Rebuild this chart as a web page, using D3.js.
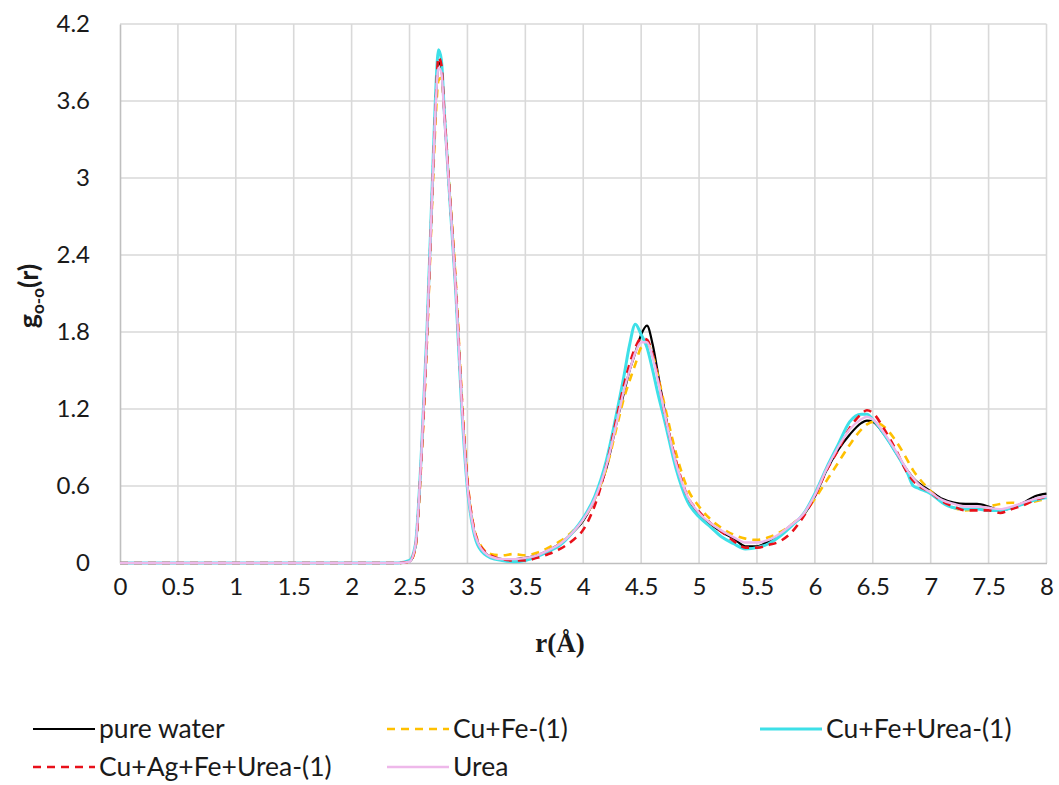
<!DOCTYPE html>
<html>
<head>
<meta charset="utf-8">
<script src="https://cdn.jsdelivr.net/npm/d3@7/dist/d3.min.js"></script>
<style>
  html, body { margin: 0; padding: 0; background: #ffffff; }
  svg { display: block; }
  .tick-label { font-family: Lato, "Open Sans", sans-serif; font-size: 24px; fill: #1a1a1a; }
  .legend-label { font-family: Lato, "Open Sans", sans-serif; font-size: 26.5px; fill: #1a1a1a; }
</style>
</head>
<body>
<svg id="chart" width="1059" height="785"></svg>
<script>
// Radial distance grid (Å), shared by every series
const rValues = [0, 0.5, 1, 1.5, 2, 2.4, 2.5, 2.55, 2.6, 2.65, 2.7, 2.725, 2.75, 2.775, 2.8,
  2.85, 2.9, 2.95, 3.0, 3.05, 3.1, 3.2, 3.3, 3.4, 3.5, 3.6, 3.7, 3.8, 3.9, 4.0, 4.1, 4.2, 4.3,
  4.35, 4.4, 4.45, 4.5, 4.55, 4.6, 4.65, 4.7, 4.8, 4.9, 5.0, 5.1, 5.2, 5.3, 5.4, 5.5, 5.6, 5.7,
  5.8, 5.9, 6.0, 6.1, 6.2, 6.3, 6.4, 6.45, 6.5, 6.6, 6.7, 6.8, 6.85, 6.9, 7.0, 7.1, 7.2, 7.3,
  7.4, 7.5, 7.6, 7.7, 7.8, 7.9, 8.0];

// g_O-O(r) for each system
const pureWater = [0, 0, 0, 0, 0, 0, 0.01, 0.12, 0.8, 1.76, 3.0, 3.55, 3.9, 3.86, 3.5,
  2.82, 2.12, 1.26, 0.6, 0.28, 0.14, 0.05, 0.03, 0.03, 0.04, 0.06, 0.1, 0.15, 0.23, 0.33, 0.5, 0.74, 1.14,
  1.32, 1.5, 1.64, 1.78, 1.85, 1.7, 1.45, 1.2, 0.78, 0.5, 0.38, 0.3, 0.24, 0.19, 0.13, 0.13, 0.17, 0.22,
  0.3, 0.37, 0.52, 0.72, 0.88, 1.0, 1.09, 1.11, 1.1, 1.0, 0.86, 0.72, 0.66, 0.62, 0.56, 0.5, 0.47, 0.46,
  0.46, 0.44, 0.41, 0.43, 0.47, 0.52, 0.54];

const cuFe = [0, 0, 0, 0, 0, 0, 0.01, 0.11, 0.76, 1.72, 2.92, 3.45, 3.76, 3.78, 3.5,
  2.86, 2.18, 1.32, 0.65, 0.3, 0.16, 0.07, 0.06, 0.07, 0.06, 0.08, 0.12, 0.17, 0.24, 0.34, 0.5, 0.74, 1.1,
  1.28, 1.42, 1.55, 1.68, 1.71, 1.62, 1.44, 1.24, 0.86, 0.58, 0.44, 0.34, 0.27, 0.22, 0.19, 0.18, 0.2, 0.24,
  0.3, 0.38, 0.5, 0.64, 0.78, 0.92, 1.04, 1.08, 1.1, 1.06, 0.95, 0.8, 0.72, 0.66, 0.56, 0.48, 0.43, 0.41,
  0.42, 0.44, 0.46, 0.47, 0.46, 0.48, 0.5];

const cuFeUrea = [0, 0, 0, 0, 0, 0, 0.02, 0.14, 0.82, 1.8, 3.05, 3.65, 4.0, 3.92, 3.52,
  2.8, 2.1, 1.22, 0.58, 0.26, 0.12, 0.04, 0.02, 0.01, 0.02, 0.05, 0.09, 0.14, 0.23, 0.35, 0.52, 0.8, 1.22,
  1.45, 1.7, 1.86, 1.78, 1.68, 1.5, 1.3, 1.12, 0.74, 0.48, 0.36, 0.28, 0.2, 0.15, 0.11, 0.12, 0.15, 0.21,
  0.29, 0.38, 0.54, 0.74, 0.92, 1.1, 1.16, 1.16, 1.12, 1.0, 0.86, 0.7, 0.6, 0.58, 0.54, 0.47, 0.43, 0.42,
  0.42, 0.41, 0.41, 0.43, 0.46, 0.49, 0.51];

const cuAgFeUrea = [0, 0, 0, 0, 0, 0, 0.01, 0.12, 0.78, 1.74, 2.98, 3.55, 3.94, 3.88, 3.52,
  2.84, 2.15, 1.3, 0.64, 0.3, 0.15, 0.06, 0.03, 0.02, 0.02, 0.04, 0.07, 0.11, 0.17, 0.26, 0.45, 0.76, 1.18,
  1.38, 1.55, 1.68, 1.75, 1.74, 1.62, 1.42, 1.18, 0.8, 0.52, 0.4, 0.31, 0.24, 0.17, 0.12, 0.12, 0.14, 0.17,
  0.24, 0.36, 0.52, 0.72, 0.88, 1.05, 1.16, 1.19, 1.17, 1.04, 0.88, 0.7, 0.64, 0.6, 0.55, 0.48, 0.44, 0.41,
  0.41, 0.41, 0.39, 0.42, 0.45, 0.49, 0.52];

const urea = [0, 0, 0, 0, 0, 0, 0.01, 0.13, 0.8, 1.76, 3.0, 3.55, 3.86, 3.82, 3.48,
  2.82, 2.12, 1.26, 0.6, 0.28, 0.14, 0.05, 0.03, 0.03, 0.04, 0.06, 0.1, 0.15, 0.23, 0.34, 0.5, 0.76, 1.14,
  1.34, 1.5, 1.64, 1.72, 1.72, 1.6, 1.4, 1.18, 0.78, 0.52, 0.39, 0.31, 0.25, 0.2, 0.16, 0.16, 0.18, 0.23,
  0.3, 0.38, 0.53, 0.73, 0.9, 1.04, 1.12, 1.14, 1.12, 1.01, 0.87, 0.72, 0.66, 0.61, 0.55, 0.49, 0.46, 0.44,
  0.44, 0.43, 0.42, 0.44, 0.47, 0.5, 0.52];

const seriesNames = ["pure water", "Cu+Fe-(1)", "Cu+Fe+Urea-(1)", "Cu+Ag+Fe+Urea-(1)", "Urea"];
const seriesValues = [pureWater, cuFe, cuFeUrea, cuAgFeUrea, urea];

const xTicks = [0, 0.5, 1, 1.5, 2, 2.5, 3, 3.5, 4, 4.5, 5, 5.5, 6, 6.5, 7, 7.5, 8];
const yTicks = [0, 0.6, 1.2, 1.8, 2.4, 3, 3.6, 4.2];

// Line styling per series
const styles = [
  { color: "#000000", width: 2.2, dash: null },
  { color: "#FFC000", width: 2.6, dash: "8,6" },
  { color: "#3EE0E8", width: 3, dash: null },
  { color: "#E8101A", width: 2.6, dash: "8,6" },
  { color: "#EEB8EA", width: 2.4, dash: null }
];

const svg = d3.select("#chart");
const plot = { left: 120, right: 1046.5, top: 24, bottom: 563 };

const x = d3.scaleLinear().domain([0, 8]).range([plot.left, plot.right]);
const y = d3.scaleLinear().domain([0, 4.2]).range([plot.bottom, plot.top]);

// Gridlines
const grid = svg.append("g");
grid.selectAll("line.v").data(xTicks.filter(t => t > 0)).join("line")
  .attr("x1", d => x(d)).attr("x2", d => x(d))
  .attr("y1", plot.top).attr("y2", plot.bottom)
  .attr("stroke", "#d9d9d9").attr("stroke-width", 1.6);
grid.selectAll("line.h").data(yTicks.filter(t => t > 0)).join("line")
  .attr("x1", plot.left).attr("x2", plot.right)
  .attr("y1", d => y(d)).attr("y2", d => y(d))
  .attr("stroke", "#d9d9d9").attr("stroke-width", 1.6);

// Axes
const xAxis = svg.append("g")
  .attr("transform", `translate(0,${plot.bottom})`)
  .call(d3.axisBottom(x).tickValues(xTicks).tickSize(0).tickPadding(15).tickFormat(d3.format("")));
const yAxis = svg.append("g")
  .attr("transform", `translate(${plot.left},0)`)
  .call(d3.axisLeft(y).tickValues(yTicks).tickSize(0).tickPadding(30).tickFormat(d3.format("")));
[xAxis, yAxis].forEach(a => {
  a.select(".domain").attr("stroke", "#bfbfbf").attr("stroke-width", 1.6);
  a.selectAll("text").attr("class", "tick-label").attr("fill", "#1a1a1a");
});

// Curves
const line = d3.line()
  .x((d, i) => x(rValues[i]))
  .y(d => y(d))
  .curve(d3.curveMonotoneX);

svg.append("g").selectAll("path").data(seriesValues).join("path")
  .attr("d", d => line(d))
  .attr("fill", "none")
  .attr("stroke", (d, i) => styles[i].color)
  .attr("stroke-width", (d, i) => styles[i].width)
  .attr("stroke-dasharray", (d, i) => styles[i].dash)
  .attr("stroke-linejoin", "round");

// Axis titles
svg.append("text")
  .attr("x", 560).attr("y", 652)
  .attr("text-anchor", "middle")
  .style("font-family", "'Liberation Serif', 'DejaVu Serif', serif")
  .style("font-weight", "bold").style("font-size", "27px")
  .attr("fill", "#1a1a1a")
  .text("r(Å)");

const yTitle = svg.append("text")
  .attr("transform", "translate(38,296) rotate(-90)")
  .attr("text-anchor", "middle")
  .style("font-family", "Lato, 'Open Sans', sans-serif")
  .style("font-weight", "bold").style("font-size", "27px")
  .attr("fill", "#1a1a1a");
yTitle.append("tspan").text("g");
yTitle.append("tspan").attr("dy", 6).style("font-size", "17px").text("o-o");
yTitle.append("tspan").attr("dy", -6).text("(r)");

// Legend
const legendPos = [
  { x: 33, y: 729 }, { x: 387, y: 729 }, { x: 760, y: 729 },
  { x: 33, y: 767 }, { x: 387, y: 767 }
];
const legend = svg.append("g").selectAll("g").data(seriesNames).join("g")
  .attr("transform", (d, i) => `translate(${legendPos[i].x},${legendPos[i].y})`);
legend.append("line")
  .attr("x1", 0).attr("x2", 62).attr("y1", 0).attr("y2", 0)
  .attr("stroke", (d, i) => styles[i].color)
  .attr("stroke-width", (d, i) => styles[i].width)
  .attr("stroke-dasharray", (d, i) => styles[i].dash);
legend.append("text")
  .attr("class", "legend-label")
  .attr("x", 66).attr("y", 0).attr("dy", "0.35em")
  .text(d => d);
</script>
</body>
</html>
